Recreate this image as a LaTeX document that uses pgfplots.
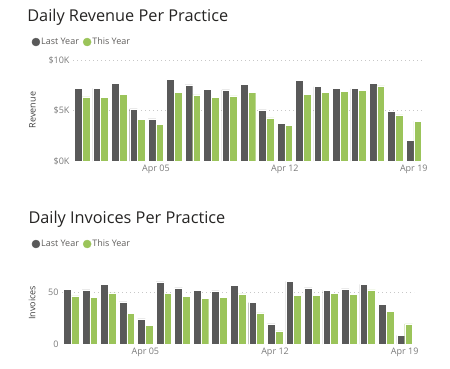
\documentclass[border=0pt]{standalone}
\usepackage{pgfplots}
\pgfplotsset{compat=1.18}
\usepackage{pgfplotstable}
\usepackage{fontspec}
\setmainfont{Open Sans}
\definecolor{lastyear}{HTML}{595959}
\definecolor{thisyear}{HTML}{9BC45A}
\definecolor{titlecol}{HTML}{252423}
\definecolor{legcol}{HTML}{605E5C}
\definecolor{tickcol}{HTML}{7A7A7A}
\definecolor{gridcol}{HTML}{C8C8C8}

\pgfplotstableread{
day last this
1 7200 6350
2 7200 6280
3 7660 6600
4 5160 4100
5 4180 3650
6 8060 6780
7 7530 6550
8 7100 6300
9 7040 6450
10 7570 6780
11 5070 4280
12 3750 3550
13 7960 6600
14 7370 6800
15 7200 6870
16 7170 7000
17 7700 7430
18 4900 4570
19 2070 3950
}\revenue

\pgfplotstableread{
day last this
1 53.2 46.8
2 52.6 45.1
3 57.8 49.7
4 40.9 29.5
5 24.4 18.2
6 60.4 49.4
7 54.5 46.1
8 52.3 44.2
9 51.6 45.1
10 57.1 48.7
11 40.3 30.2
12 19.5 12.7
13 61.0 47.4
14 54.5 47.1
15 52.3 49.4
16 53.6 48.4
17 58.1 52.6
18 38.3 32.1
19 8.4 19.5
}\invoices

\pgfplotsset{
  dailystyle/.style={
    scale only axis,
    xmin=0.5, xmax=19.5,
    scaled y ticks=false,
    axis line style={draw=none},
    tick style={draw=none},
    major tick length=0pt,
    xtick={5,12,19},
    xticklabels={Apr 05,Apr 12,Apr 19},
    ymajorgrids,
    major grid style={gridcol, line width=0.6bp, dash pattern=on 0.8bp off 3.2bp},
    extra y tick style={grid=none},
    ticklabel style={font=\fontsize{9bp}{10bp}\selectfont, text=tickcol},
    /pgf/number format/assume math mode=true,
    ylabel style={font=\fontsize{9bp}{10bp}\selectfont, text=black!75, anchor=center},
    every axis title/.style={font=\fontsize{16.3bp}{18bp}\selectfont, text=titlecol, anchor=base west, inner sep=0pt},
    legend columns=2,
    legend cell align=left,
    legend style={draw=none, fill=none, anchor=west,
      font=\fontsize{9bp}{10bp}\selectfont, text=legcol,
      nodes={inner sep=1bp},
      /tikz/every even column/.append style={column sep=3bp}},
    bar width=0.42,
  },
  lybar/.style={ybar, bar shift=-0.21, fill=lastyear, draw=white, line width=0.4bp, forget plot},
  tybar/.style={ybar, bar shift=0.21, fill=thisyear, draw=white, line width=0.4bp, forget plot},
}

\begin{document}
\begin{tikzpicture}
\useasboundingbox (0,0) rectangle (450bp,-369bp);
% Revenue
\begin{axis}[dailystyle,
  at={(73bp,-161bp)}, anchor=south west,
  width=350bp, height=101bp,
  ymin=0, ymax=10000,
  ytick={5000,10000}, yticklabels={\$5K,\$10K},
  extra y ticks={0}, extra y tick labels={\$0K},
  ylabel={Revenue},
  ylabel style={at={(axis description cs:-0.116,0.505)}},
  title={Daily Revenue Per Practice},
  title style={at={(axis description cs:-0.131,1.379)}},
  legend style={at={(axis description cs:-0.127,1.178)}},
]
\addplot[lybar] table[x=day,y=last] {\revenue};
\addplot[tybar] table[x=day,y=this] {\revenue};
\addlegendimage{legend image code/.code={\fill[lastyear] (0bp,0bp) circle[radius=4bp];}}
\addlegendentry{Last Year}
\addlegendimage{legend image code/.code={\fill[thisyear] (0bp,0bp) circle[radius=4bp];}}
\addlegendentry{This Year}
\end{axis}
% Invoices
\begin{axis}[dailystyle,
  at={(62bp,-344bp)}, anchor=south west,
  width=352bp, height=66.8bp,
  ymin=0, ymax=65,
  ytick={50}, yticklabels={50},
  extra y ticks={0}, extra y tick labels={0},
  ylabel={Invoices},
  ylabel style={at={(axis description cs:-0.085,0.614)}},
  title={Daily Invoices Per Practice},
  title style={at={(axis description cs:-0.0957,1.807)}},
  legend style={at={(axis description cs:-0.095,1.497)}},
]
\addplot[lybar] table[x=day,y=last] {\invoices};
\addplot[tybar] table[x=day,y=this] {\invoices};
\addlegendimage{legend image code/.code={\fill[lastyear] (0bp,0bp) circle[radius=4bp];}}
\addlegendentry{Last Year}
\addlegendimage{legend image code/.code={\fill[thisyear] (0bp,0bp) circle[radius=4bp];}}
\addlegendentry{This Year}
\end{axis}
\end{tikzpicture}
\end{document}
